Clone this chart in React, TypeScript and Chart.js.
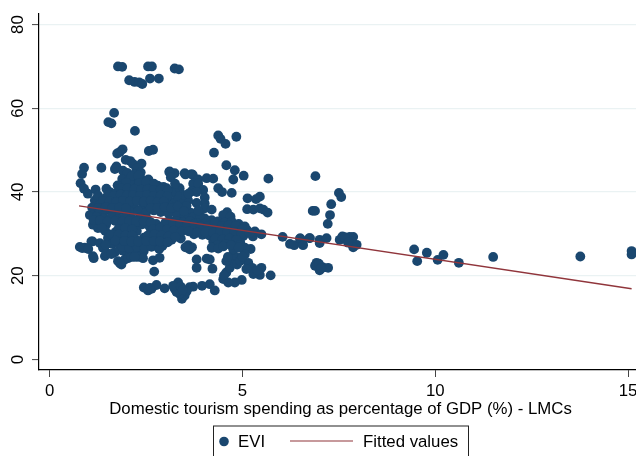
import React, { useEffect, useRef } from "react";
import { Chart, registerables } from "chart.js";

Chart.register(...registerables);

const xTickValues = [0, 5, 10, 15];
const yTickValues = [0, 20, 40, 60, 80];
const xTitle = "Domestic tourism spending as percentage of GDP (%) - LMCs";
const scatterName = "EVI";
const lineName = "Fitted values";

const fittedLine = [
  { x: 0.76, y: 36.7 },
  { x: 15.09, y: 16.9 },
];

const topCluster: number[][] = [
  [1.77,70],[1.88,69.9],[2.55,70],[2.65,70],[3.24,69.5],[3.35,69.3],[2.06,66.7],[2.2,66.3],[2.32,66.2],[2.4,65.8],[2.6,67.1],[2.83,67.1],
  [1.67,58.9],[1.52,56.7],[1.6,56.4],[2.21,54.6],[4.37,53.5],[4.43,52.7],[4.56,51.5],[4.84,53.2],[4.26,49.4],
  [1.89,50.2],[1.82,49.6],[1.75,49.2],[2.57,49.8],[2.68,50.1],
];

const upperPoints: number[][] = [
  [0.89,45.8],[1.34,45.8],[1.73,46.1],[1.69,45.5],[1.97,47.7],[2.09,47.4],[2.16,46.7],[2.38,46.8],[2.25,45.6],[1.9,45.1],
  [3.11,44.9],[3.24,44.5],[3.5,44.5],[3.68,44.3],[4.58,46.4],[4.8,45.2],[5.03,43.9],[4.76,43],[5.67,43.2],
  [3.1,44.8],[3.14,43.5],[3.52,44.2],[3.71,44.1],[3.85,43],[4.07,43.3],[4.24,43.2],[3.72,42],[3.85,42],[3.98,40.5],[3.68,40.2],[3.81,40],
  [3.03,40.9],[3.37,40.9],[3.23,40.4],[3.11,39.6],[4.37,40.9],[4.47,40],[4.72,39.8],[5.13,38.5],[5.45,38.9],[5.35,38.3],
  [5.12,35.9],[5.28,35.8],[5.45,36.1],[5.54,35.8],[5.65,35.1],[4.02,38.7],[4.02,37.3],[4.02,36.1],[4.2,35.8],[3.65,35.1],[3.81,37.4],[3.59,38],[3.37,37.9],[3.2,37.6],[3.07,36.9],[3.24,35.7],
  [4.6,35.2],[4.5,34.5],[4.69,34.1],[4.2,33.3],[4.02,33.7],
  [0.84,44.3],[0.8,42.1],[0.89,40.8],[0.99,39.6],[1.17,38],[1.19,40.6],[1.25,39.2],[1.47,40.8],
  [3.25,42],[3.45,39.3],[3.6,39.6],[3.3,39.1],
];

const corePoints: number[][] = [
  [2.01,44.6],[2.19,44.2],[2.36,44.7],
  [1.88,43.1],[2.05,42.7],[2.22,43.3],[2.41,42.9],[2.56,43],
  [1.76,41.6],[1.93,41.2],[2.11,41.8],[2.28,41.3],[2.46,41.7],[2.62,41.1],[2.8,41.5],[2.95,41.2],
  [1.56,40],[1.72,39.7],[1.9,40.2],[2.06,39.8],[2.25,40.1],[2.42,39.6],[2.6,40.2],[2.78,39.8],[2.96,40.1],[3.15,39.9],
  [1.45,38.6],[1.62,38.2],[1.8,38.8],[1.97,38.3],[2.15,38.7],[2.33,38.2],[2.5,38.7],[2.68,38.3],[2.85,38.6],[3,38.3],
  [1.3,37],[1.5,37.2],[1.68,36.8],[1.85,37.3],[2.03,36.9],[2.18,36.6],[2.42,36.7],[2.55,37.2],[2.73,36.9],[2.9,37.1],[3.05,35.9],[3.42,36.2],[3.55,36.7],
  [1.2,35.5],[1.4,35.2],[1.58,35.7],[1.75,35.3],[1.92,35.6],[2.1,35.2],[2.3,35.5],[2.5,35.1],[2.7,35.6],[2.88,35.2],[3.08,34.9],[3.3,34.4],[3.5,34.2],[3.72,34],[3.9,34.4],
  [1.04,34.5],[1.22,34.1],[1.4,33.7],[1.6,34],[1.78,33.6],[1.96,34.1],[2.14,33.6],[2.34,33.9],[2.52,33.6],[3.1,33.2],[3.28,33.1],[3.45,32.8],[3.64,33],[3.82,32.6],[4,32.4],[4.18,32.1],[4.36,33],[4.54,32.7],[4.72,32.9],[4.9,32.4],[5.06,31.8],
  [1.12,32.2],[1.28,32.4],[1.46,32.2],[1.84,32],[2.02,32.4],[2.2,32],[2.4,32.3],[2.58,31.9],[2.76,32.4],[2.94,31.9],[3.12,31.7],[3.3,31.5],[3.5,31.3],[3.68,31.6],[3.86,31],[4.04,31.2],[4.22,30.9],[4.4,31.4],[4.58,31],[4.76,31.3],[4.94,30.8],[5.12,30.9],[5.27,29.4],[5.32,30.6],[5.49,29.9],
  [1.25,31.4],[1.44,30.7],[1.72,30.5],[1.9,30.7],[2.08,30.3],[2.26,30.7],[2.62,30.4],[2.8,30.8],[2.98,30.3],[3.18,30],[3.34,30.2],[3.74,29.9],[3.96,29.8],[4.14,29.6],[4.32,29.8],[4.5,29.4],[4.68,29.7],[4.86,29.3],[5.02,29.5],
  [1.51,29],[1.68,29.2],[1.86,28.8],[2.04,29],[2.22,28.7],[2.44,29.1],[2.62,28.9],[2.8,29.2],[2.96,28.8],[3.16,28.6],[3.4,28.9],[4.24,28.2],[4.42,28],[4.6,28.2],[4.78,27.9],[4.94,28],
  [1.08,28.2],[1.11,28.2],[1.3,27.8],[1.62,27.6],[1.8,27.4],[1.98,27.8],[2.16,27.2],[2.36,27.6],[2.56,27.4],[2.74,27.7],[2.92,27.1],
  [0.78,26.9],[0.91,26.7],[0.84,26.6],[1,26.4],[1.38,26.7],[1.9,26],[2.1,25.8],[2.28,26.2],[2.44,25.9],
  [1.12,24.7],[1.43,24.7],[1.47,25.5],[1.69,25.6],[1.14,24.2],
  [1.86,22.7],[1.77,23.5],[1.95,23.9],[2.03,24.2],[2.12,24.5],[2.29,24.5],[2.42,24.2],[2.2,24.5],[1.82,23],[2.68,23.7],[2.85,24.3],[2.71,21],
  [2.44,17.2],[2.55,16.5],[2.64,16.9],[2.77,17.8],[2.98,17],[2.6,17.1],
];

const denseFill: number[][] = [
  [2.12,43.8],[2.3,43.9],[1.98,42.2],[2.33,42.2],[2.5,42.3],[2.7,42],[1.84,40.9],[2.02,40.8],[2.2,40.7],[2.37,40.6],[2.54,40.7],[2.7,40.5],[2.88,40.6],[3.06,40.4],
  [1.52,39.3],[1.66,39.1],[1.84,39.4],[2.0,39.2],[2.16,39.3],[2.34,39.1],[2.52,39.3],[2.7,39.1],[2.88,39.2],[3.05,39.0],[1.38,37.9],[1.55,37.8],[1.72,37.6],[1.9,37.9],[2.08,37.7],[2.26,37.9],[2.44,37.7],[2.62,37.9],[2.8,37.6],[2.96,37.7],
  [1.1,36.3],[1.26,36.2],[1.45,36.4],[1.62,36.2],[1.8,36.3],[1.98,36.1],[2.62,36.2],[2.8,36.2],[2.98,36.4],[3.16,36.2],[3.32,36.6],[3.48,35.4],[3.85,35.6],
  [1.14,33.3],[1.3,33.2],[1.5,33],[1.7,33.1],[1.88,32.9],[2.06,33.1],[2.24,32.9],[2.44,33],[2.62,32.8],[3,32.7],[3.2,32.5],[3.38,32.2],[3.56,32.1],[3.74,32.4],[3.92,31.8],[4.1,31.9],[4.28,32.6],[4.46,31.9],[4.64,32.1],[4.82,31.9],[5,31.2],
  [1.35,31.4],[1.78,31.2],[1.96,31.4],[2.14,31.1],[2.68,31.2],[2.86,31.3],[3.04,31],[3.22,30.8],[3.42,30.6],[3.6,30.6],[3.82,30.3],[4.04,30.4],[4.24,30.3],[4.42,30.5],[4.6,30.3],[4.78,30.4],[4.96,29.9],[5.18,30.2],
  [1.6,29.9],[1.78,29.8],[1.96,29.6],[2.14,29.6],[2.54,29.6],[2.72,29.9],[2.9,29.6],[3.08,29.4],[3.26,29.3],[4.3,28.9],[4.48,28.7],[4.66,28.9],[4.84,28.6],
  [1.45,27.4],[1.88,26.8],[2.06,26.6],[2.26,26.9],[2.46,26.7],[2.64,26.9],[2.84,26.4],[1.6,25.2],[4.34,27.3],[4.56,27.6],[4.74,27.2],[4.9,27.3],
  [1.7,28.4],[1.94,28.3],[2.12,28.2],[2.3,28.2],[2.5,28.3],[2.7,28.3],[2.86,28.2],[3.06,28],
];

const lowerPoints: number[][] = [
  [5.73,20.1],[5.49,21.9],[5.45,20.2],[5.28,20.4],[5.15,23.1],[5.25,21.9],[4.98,19],[4.8,18.4],[4.63,18.4],[4.5,19.2],[4.58,20.8],[4.67,21.9],[4.76,23.1],[4.58,23.5],[4.89,24.3],[4.76,25.1],[4.76,26.3],
  [5.21,26.4],[5.06,26.7],[4.2,26.7],[4.37,26.5],[4.5,27],[3.59,27.3],[3.69,26.8],[3.63,26.3],[3.52,26.8],[3.81,23.9],[3.81,21.9],[4.07,24.1],[4.15,23.9],[4.22,21.7],[5.06,25.1],[4.62,24.5],[4.7,27.3],[4.9,26.7],
  [5.3,21],[5.1,21.6],[5.38,21.3],[4.52,20.1],[4.86,22.7],[4.94,23.6],[5.0,24.6],
  [3.33,18.4],[3.24,16.9],[3.43,14.5],[3.5,15.3],[3.37,15.7],[3.63,17.3],[3.72,17.4],[3.95,17.6],[4.15,18],[4.28,16.5],[3.29,16.1],[3.55,16.3],[3.2,17.6],[3.4,17.4],[3.45,16.6],
];

const rightPoints: number[][] = [
  [6.89,43.8],[7.5,39.8],[7.56,38.8],[7.3,37.1],[6.82,35.5],[6.88,35.5],[7.27,34.5],[7.21,32.4],
  [6.04,29.3],[6.23,27.6],[6.34,27.3],[6.49,28.9],[6.56,27.5],[6.73,29],[6.5,28.9],[6.75,29],[7,28.6],[7,27.8],[7.18,29],[6.57,27.3],
  [7.52,28.6],[7.59,29.4],[7.7,28.6],[7.78,29.3],[7.87,29.3],[7.83,28.2],[7.96,27.4],[7.87,26.8],[7.65,29.2],[7.74,27.9],
  [6.92,23.1],[7,22.4],[6.94,22.5],[7,21.3],[7.09,22],[7.22,21.9],[6.88,22.4],[6.98,22.9],[7.04,21.8],
  [9.45,26.3],[9.78,25.5],[9.53,23.5],[10.06,23.8],[10.21,25],[10.61,23.1],[11.5,24.5],[13.76,24.6],[15.09,25.9],[15.09,25.1],
];

const eviPoints = [...topCluster, ...upperPoints, ...corePoints, ...denseFill, ...lowerPoints, ...rightPoints].map(([x, y]) => ({ x, y }));

const navy = "#1a476f";
const maroon = "#90353b";
const gridBlue = "#eaf2f3";
const fontFamily = "'Liberation Sans', Arial, sans-serif";
const fontSize = 16.8;

const stataLegend = {
  id: "stataLegend",
  afterDraw(chart: any) {
    const ctx = chart.ctx;
    const names = chart.data.datasets.map((d: any) => d.label);
    ctx.save();
    ctx.strokeStyle = "#222";
    ctx.lineWidth = 1;
    ctx.strokeRect(213.5, 426, 255, 34);
    ctx.fillStyle = navy;
    ctx.beginPath();
    ctx.arc(224, 441.5, 4.8, 0, Math.PI * 2);
    ctx.fill();
    ctx.strokeStyle = maroon;
    ctx.lineWidth = 1.2;
    ctx.beginPath();
    ctx.moveTo(290, 441);
    ctx.lineTo(353, 441);
    ctx.stroke();
    ctx.fillStyle = "#000";
    ctx.font = fontSize + "px " + fontFamily;
    ctx.textBaseline = "middle";
    ctx.fillText(names[0], 238, 442);
    ctx.fillText(names[1], 363, 442);
    ctx.restore();
  },
};

export default function App() {
  const ref = useRef<HTMLCanvasElement>(null);
  useEffect(() => {
    const chart = new Chart(ref.current as HTMLCanvasElement, {
      type: "scatter",
      data: {
        datasets: [
          {
            label: scatterName,
            data: eviPoints,
            backgroundColor: navy,
            borderColor: navy,
            pointRadius: 4.9,
            borderWidth: 0,
            order: 2,
          },
          {
            label: lineName,
            type: "line",
            data: fittedLine,
            borderColor: maroon,
            borderWidth: 1.3,
            pointRadius: 0,
            fill: false,
            order: 1,
          } as any,
        ],
      },
      options: {
        responsive: false,
        animation: false,
        layout: { autoPadding: false, padding: { top: 9, right: 0, bottom: 37, left: 0 } },
        plugins: { legend: { display: false }, tooltip: { enabled: false } },
        scales: {
          x: {
            type: "linear",
            min: -0.278,
            max: 15.36,
            afterFit: (s: any) => { s.height = 49; },
            afterBuildTicks: (s: any) => { s.ticks = xTickValues.map((value) => ({ value })); },
            grid: { drawOnChartArea: false, drawTicks: true, tickLength: 7, tickColor: "#444", tickWidth: 1 },
            border: { color: "#000", width: 1.2 },
            ticks: { color: "#000", padding: 4, maxRotation: 0, font: { family: fontFamily, size: fontSize }, callback: (v: any) => String(v) },
            title: { display: true, text: xTitle, color: "#000", font: { family: fontFamily, size: fontSize }, padding: { top: 0, bottom: 0 } },
          },
          y: {
            type: "linear",
            min: -2.5,
            max: 82.5,
            afterFit: (s: any) => { s.width = 39; },
            afterBuildTicks: (s: any) => { s.ticks = yTickValues.map((value) => ({ value })); },
            grid: {
              drawTicks: true,
              tickLength: 7,
              tickColor: "#444",
              tickWidth: 1,
              lineWidth: 1.2,
              color: (c: any) => (c.tick && c.tick.value === 0 ? "rgba(0,0,0,0)" : gridBlue),
            },
            border: { color: "#000", width: 1.2 },
            ticks: { color: "#000", padding: 4, crossAlign: "center", minRotation: 90, maxRotation: 90, font: { family: fontFamily, size: fontSize }, callback: (v: any) => String(v) },
          },
        },
      },
      plugins: [stataLegend],
    } as any);
    return () => chart.destroy();
  }, []);
  return (
    <div style={{ position: "fixed", left: 0, top: 0, width: 636, height: 456, overflow: "hidden", background: "#fff" }}>
      <canvas ref={ref} width={642} height={456} style={{ display: "block" }} />
    </div>
  );
}
